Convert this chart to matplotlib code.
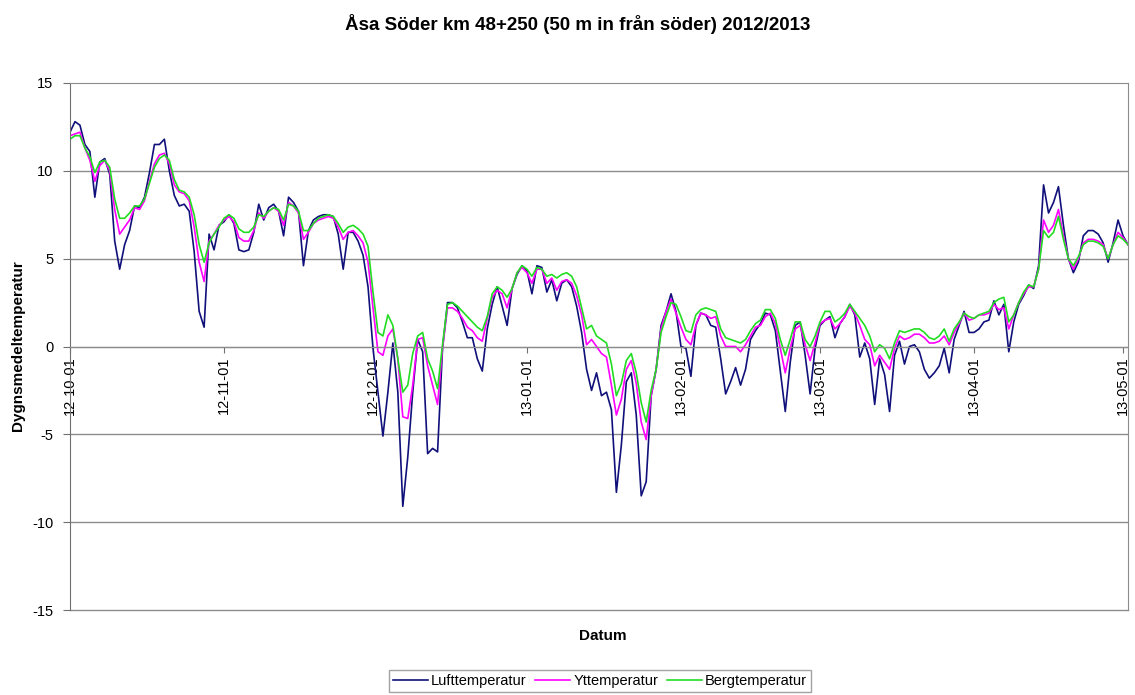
import matplotlib
matplotlib.use("Agg")
import matplotlib.pyplot as plt
import matplotlib.dates as mdates
import pandas as pd

plt.rcParams['font.family'] = ['Liberation Sans', 'DejaVu Sans']
plt.rcParams['axes.unicode_minus'] = False

start = '2012-10-01'

# daily means, 2012-10-01 .. 2013-05-02
luft = [
    # Oct
    12.2, 12.8, 12.6, 11.5, 11.1, 8.5, 10.5, 10.7, 9.8, 6.0,
    4.4, 5.8, 6.6, 8.0, 7.9, 8.5, 9.9, 11.5, 11.5, 11.8,
    10.0, 8.6, 8.0, 8.1, 7.7, 5.4, 2.0, 1.1, 6.4, 5.5, 6.9,
    # Nov
    7.1, 7.5, 7.0, 5.5, 5.4, 5.5, 6.5, 8.1, 7.2, 7.9,
    8.1, 7.7, 6.3, 8.5, 8.2, 7.7, 4.6, 6.6, 7.2, 7.4,
    7.5, 7.5, 7.4, 6.4, 4.4, 6.5, 6.5, 6.0, 5.2, 3.4,
    # Dec
    -0.1, -2.6, -5.1, -2.6, 0.2, -2.6, -9.1, -6.3, -2.6, 0.4,
    -0.3, -6.1, -5.8, -6.0, -0.1, 2.5, 2.5, 2.2, 1.4, 0.5,
    0.5, -0.7, -1.4, 1.0, 2.4, 3.4, 2.3, 1.2, 3.3, 4.1, 4.6,
    # Jan
    4.3, 3.0, 4.6, 4.5, 3.1, 3.8, 2.6, 3.6, 3.8, 3.4,
    2.3, 0.8, -1.3, -2.5, -1.5, -2.8, -2.6, -3.6, -8.3, -5.6,
    -2.0, -1.5, -3.9, -8.5, -7.7, -2.8, -1.3, 1.2, 2.0, 3.0, 2.0,
    # Feb
    0.0, -0.1, -1.7, 1.2, 1.9, 1.8, 1.2, 1.1, -0.7, -2.7,
    -2.0, -1.2, -2.2, -1.3, 0.4, 0.9, 1.3, 1.9, 1.8, 0.9,
    -1.4, -3.7, -0.9, 1.2, 1.4, -0.5, -2.7, -0.1,
    # Mar
    1.2, 1.5, 1.7, 0.5, 1.3, 1.7, 2.4, 1.8, -0.6, 0.2,
    -0.7, -3.3, -0.7, -1.6, -3.7, -0.5, 0.3, -1.0, 0.0, 0.1,
    -0.3, -1.3, -1.8, -1.5, -1.1, -0.1, -1.5, 0.4, 1.2, 2.0, 0.8,
    # Apr
    0.8, 1.0, 1.4, 1.5, 2.6, 1.8, 2.4, -0.3, 1.4, 2.4,
    2.9, 3.5, 3.3, 4.6, 9.2, 7.6, 8.2, 9.1, 6.9, 5.0,
    4.2, 4.8, 6.3, 6.6, 6.6, 6.4, 5.9, 4.8, 5.9, 7.2,
    # May
    6.3, 5.8,
]

ytt = [
    # Oct
    12.0, 12.1, 12.2, 11.3, 10.6, 9.4, 10.3, 10.6, 10.0, 7.8,
    6.4, 6.8, 7.2, 7.9, 7.8, 8.3, 9.4, 10.4, 10.9, 11.0,
    10.4, 9.2, 8.8, 8.7, 8.3, 6.8, 4.8, 3.7, 6.0, 6.4, 6.9,
    # Nov
    7.2, 7.4, 7.1, 6.2, 6.0, 6.0, 6.6, 7.6, 7.3, 7.7,
    7.9, 7.7, 6.9, 8.2, 8.0, 7.6, 6.1, 6.5, 7.0, 7.2,
    7.3, 7.4, 7.3, 6.8, 6.1, 6.5, 6.6, 6.3, 5.9, 4.8,
    # Dec
    2.2, -0.3, -0.5, 0.6, 1.0, -0.7, -4.0, -4.1, -2.2, 0.4,
    0.5, -1.1, -2.2, -3.3, -0.1, 2.2, 2.2, 2.0, 1.6, 1.1,
    0.9, 0.5, 0.3, 1.6, 2.8, 3.2, 3.0, 2.2, 3.3, 4.2, 4.5,
    # Jan
    4.2, 3.6, 4.4, 4.4, 3.6, 3.9, 3.2, 3.7, 3.8, 3.6,
    2.9, 1.8, 0.1, 0.4, 0.0, -0.4, -0.6, -2.2, -3.9, -3.0,
    -1.3, -0.8, -2.1, -4.3, -5.3, -2.8, -1.3, 1.0, 2.0, 2.7, 1.9,
    # Feb
    1.1, 0.4, 0.1, 1.2, 1.9, 1.8, 1.6, 1.7, 0.6, 0.0,
    0.0, 0.0, -0.3, 0.1, 0.6, 1.1, 1.2, 1.7, 1.9, 1.3,
    -0.1, -1.5, -0.1, 1.0, 1.2, 0.1, -0.8, 0.2,
    # Mar
    1.3, 1.5, 1.6, 1.0, 1.3, 1.7, 2.3, 1.9, 1.2, 0.4,
    0.1, -1.1, -0.5, -0.9, -1.3, -0.1, 0.6, 0.4, 0.5, 0.7,
    0.7, 0.5, 0.2, 0.2, 0.3, 0.6, 0.1, 0.8, 1.3, 1.9, 1.5,
    # Apr
    1.6, 1.8, 1.8, 1.9, 2.4, 2.1, 2.2, 1.0, 1.8, 2.5,
    3.0, 3.4, 3.4, 4.4, 7.2, 6.5, 6.9, 7.8, 6.3, 5.0,
    4.4, 5.0, 5.9, 6.1, 6.1, 6.0, 5.8, 5.0, 5.8, 6.5,
    # May
    6.2, 5.8,
]

berg = [
    # Oct
    11.8, 12.0, 12.0, 11.3, 10.8, 9.9, 10.5, 10.6, 10.2, 8.4,
    7.3, 7.3, 7.6, 8.0, 8.0, 8.4, 9.3, 10.2, 10.7, 10.9,
    10.6, 9.5, 8.9, 8.8, 8.5, 7.5, 5.8, 4.8, 5.9, 6.4, 6.8,
    # Nov
    7.3, 7.5, 7.3, 6.7, 6.5, 6.5, 6.8, 7.5, 7.4, 7.7,
    7.9, 7.8, 7.2, 8.1, 8.0, 7.7, 6.6, 6.6, 7.0, 7.3,
    7.4, 7.5, 7.4, 7.0, 6.5, 6.8, 6.9, 6.7, 6.4, 5.7,
    # Dec
    3.1, 0.8, 0.6, 1.8, 1.2, -0.7, -2.6, -2.2, -0.4, 0.6,
    0.8, -0.7, -1.4, -2.4, 0.1, 2.4, 2.5, 2.3, 2.0, 1.7,
    1.4, 1.1, 0.9, 1.7, 3.0, 3.4, 3.2, 2.8, 3.3, 4.2, 4.6,
    # Jan
    4.4, 4.0, 4.5, 4.4, 4.0, 4.1, 3.9, 4.1, 4.2, 4.0,
    3.4, 2.2, 1.0, 1.2, 0.6, 0.4, 0.2, -1.0, -2.8, -2.1,
    -0.8, -0.4, -1.5, -3.2, -4.3, -2.5, -1.3, 0.8, 1.7, 2.5, 2.4,
    # Feb
    1.7, 0.9, 0.8, 1.8, 2.1, 2.2, 2.1, 2.0, 1.0, 0.5,
    0.4, 0.3, 0.2, 0.4, 0.9, 1.3, 1.5, 2.1, 2.1, 1.6,
    0.4, -0.5, 0.4, 1.4, 1.4, 0.4, 0.0, 0.6,
    # Mar
    1.4, 2.0, 2.0, 1.4, 1.6, 1.9, 2.4, 2.0, 1.6, 1.2,
    0.6, -0.3, 0.1, -0.1, -0.7, 0.2, 0.9, 0.8, 0.9, 1.0,
    1.0, 0.8, 0.5, 0.4, 0.6, 1.0, 0.3, 1.0, 1.4, 1.9, 1.7,
    # Apr
    1.6, 1.8, 1.9, 2.0, 2.5, 2.7, 2.8, 1.4, 1.8, 2.5,
    3.1, 3.5, 3.4, 4.4, 6.6, 6.2, 6.5, 7.4, 6.1, 5.0,
    4.6, 5.1, 5.8, 6.0, 6.0, 5.9, 5.7, 5.0, 5.8, 6.3,
    # May
    6.1, 5.8,
]

labels = ['Lufttemperatur', 'Yttemperatur', 'Bergtemperatur']
colors = ['#10107a', '#ff00ff', '#22dd22']
month_ticks = ['2012-10-01', '2012-11-01', '2012-12-01', '2013-01-01',
               '2013-02-01', '2013-03-01', '2013-04-01', '2013-05-01']

dates = pd.date_range(start, periods=len(luft), freq='D')

fig = plt.figure(figsize=(11.35, 6.95), dpi=100)
ax = fig.add_axes([70 / 1135, 1 - 610 / 695, 1058 / 1135, 527 / 695])

grid_c = '#8c8c8c'
for series, lab, col in zip([luft, ytt, berg], labels, colors):
    ax.plot(dates, series, color=col, lw=1.2, label=lab)

ax.set_ylim(-15, 15)
ax.set_yticks(range(-15, 16, 5))
ax.set_xlim(dates[0], dates[-1])
ax.set_xticks(pd.to_datetime(month_ticks))
ax.xaxis.set_major_formatter(mdates.DateFormatter('%y-%m-%d'))

for y in range(-10, 15, 5):
    ax.axhline(y, color=grid_c, lw=1.0, zorder=0)
ax.axhline(-15, color=grid_c, lw=1.0, clip_on=False, zorder=0)

ax.spines['bottom'].set_position(('data', 0))
ax.spines['bottom'].set_color(grid_c)
ax.spines['top'].set_color(grid_c)
ax.spines['right'].set_color(grid_c)
ax.spines['left'].set_color('#707070')

ax.tick_params(axis='x', direction='out', length=4, color='#707070',
               labelsize=10.5, labelrotation=90, pad=3)
ax.tick_params(axis='y', direction='out', length=5, color='#707070',
               labelsize=10.5, pad=7)

fig.text(578 / 1135, 1 - 24 / 695, 'Åsa Söder km 48+250 (50 m in från söder) 2012/2013',
         ha='center', va='center', fontsize=13.5, fontweight='bold')
fig.text(18 / 1135, 1 - 346 / 695, 'Dygnsmedeltemperatur', rotation=90,
         ha='center', va='center', fontsize=11, fontweight='bold')
fig.text(603 / 1135, 1 - 636 / 695, 'Datum', ha='center', va='center',
         fontsize=11, fontweight='bold')

leg = fig.legend(loc='center', bbox_to_anchor=(600 / 1135, 1 - 681 / 695), ncol=3,
                 fontsize=10.5, frameon=True, fancybox=False, edgecolor=grid_c,
                 handlelength=2.4, columnspacing=0.6, borderpad=0.3,
                 handletextpad=0.2, borderaxespad=0)
leg.get_frame().set_linewidth(1.0)

fig.savefig('out.png', dpi=100)
